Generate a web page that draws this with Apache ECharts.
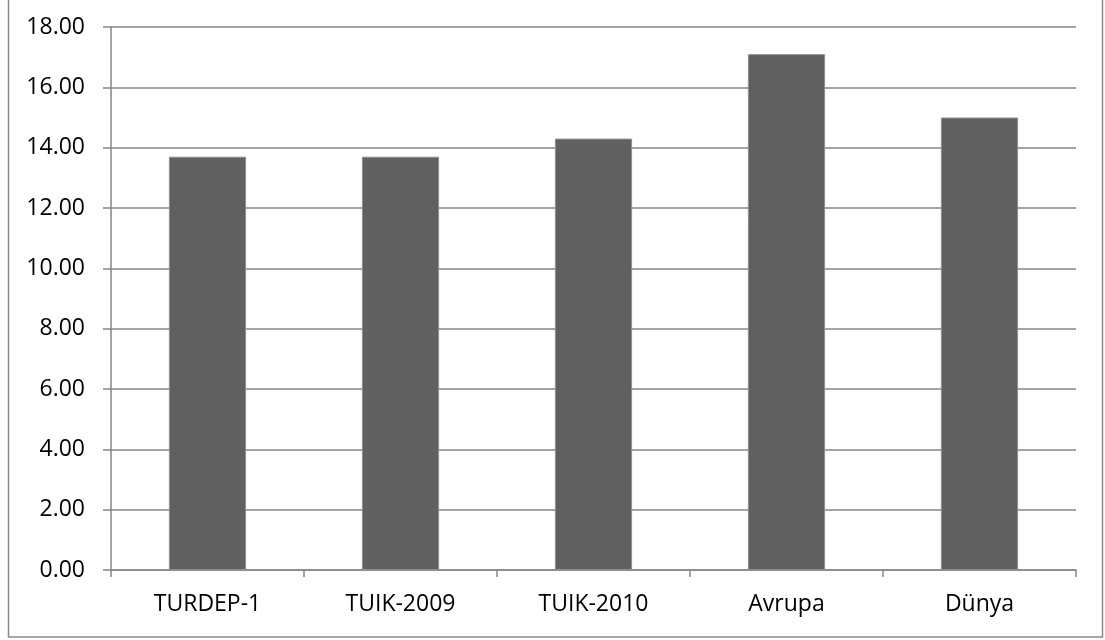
<!DOCTYPE html>
<html>
<head>
<meta charset="utf-8">
<title>chart</title>
<style>
  html, body { margin: 0; padding: 0; background: #fff; }
  #main { width: 1105px; height: 640px; }
</style>
</head>
<body>
<div id="main"></div>
<script src="https://cdn.jsdelivr.net/npm/echarts@6/dist/echarts.min.js"></script>
<script>
var categories = ['TURDEP-1', 'TUIK-2009', 'TUIK-2010', 'Avrupa', 'Dünya'];
var values = [13.7, 13.7, 14.3, 17.1, 15.0];

var myChart = echarts.init(document.getElementById('main'));

var font = '"Open Sans", sans-serif';

var option = {
    backgroundColor: '#ffffff',
    animation: false,
    graphic: [{
        type: 'rect',
        shape: { x: 8.5, y: -5, width: 1094, height: 642 },
        style: { fill: 'none', stroke: '#8a8a8a', lineWidth: 1.5 },
        silent: true
    }],
    grid: { left: 111, right: 29, top: 27, bottom: 70 },
    xAxis: {
        type: 'category',
        data: categories,
        axisLine: { lineStyle: { color: '#868686', width: 1.5 } },
        axisTick: { show: true, length: 7, lineStyle: { color: '#868686', width: 1.5 } },
        axisLabel: { color: '#000', fontFamily: font, fontSize: 23, margin: 23 }
    },
    yAxis: {
        type: 'value',
        min: 0,
        max: 18,
        interval: 2,
        axisLine: { show: true, lineStyle: { color: '#868686', width: 1.5 } },
        axisTick: { show: true, length: 8, lineStyle: { color: '#868686', width: 1.5 } },
        splitLine: { lineStyle: { color: '#868686', width: 1.5 } },
        axisLabel: {
            color: '#000', fontFamily: font, fontSize: 23, margin: 26,
            formatter: function (v) { return v.toFixed(2); }
        }
    },
    series: [{
        type: 'bar',
        data: values,
        barWidth: '40%',
        itemStyle: { color: '#606060', borderColor: '#8f8f8f', borderWidth: 1 }
    }]
};

myChart.setOption(option);
window.addEventListener('resize', function () {
    myChart.resize();
});
</script>
</body>
</html>
